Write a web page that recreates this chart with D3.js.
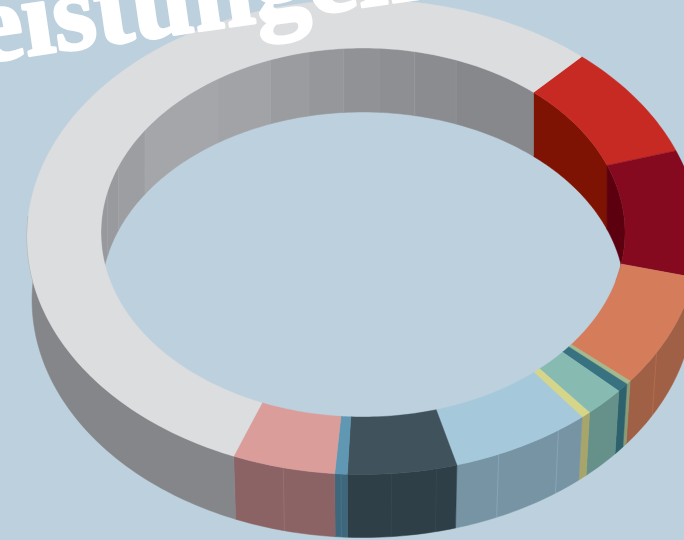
<!DOCTYPE html>
<html><head><meta charset="utf-8">
<script src="https://cdn.jsdelivr.net/npm/d3@7"></script>
<style>html,body{margin:0;padding:0;background:#bdd0dd;overflow:hidden}svg{display:block}</style>
</head><body><svg id="c" width="684" height="540"></svg>
<script>
// Shares of the ring in percent, clockwise from the red slice
const shares = [7.8, 8.65, 7.65, 0.25, 0.6, 2.0, 0.47, 6.8, 5.25, 0.6, 4.95, 55];
const topColors = ["#c72a23","#85091f","#d57c5b","#a3b88c","#38717f","#87bbb2","#d6d68a","#a5c9db","#40525c","#6098b3","#da9d9a","#dcddde"];
const outerWallColors = ["#7e1203","#5c000f","#a06045","#8a9b78","#2d626c","#66918b","#a8a56a","#7794a4","#2f3f48","#3f677c","#8b6365","#858689"];
const innerWallColors = ["#7e1203","#5c000f","#a06045","#8a9b78","#2d626c","#66918b","#a8a56a","#7794a4","#2f3f48","#3f677c","#8b6365","#9a9b9e"];
// faint seams on the outer wall: fraction of each slice's span
const outerSeams = [[],[],[0.7],[],[],[],[],[0.21,0.69],[0.19,0.6],[0.5],[0.5],[]];
// faint seams on the far inner wall (degrees clockwise from the top)
const innerSeamDeg = [-77,-69,-56.3,-33.6,-20.6,-11.9,-4.2,3.5,11.4,20.8];
const grayStops = [[105,"#98999c"],[200,"#a9aaae"],[350,"#929396"],[520,"#85868a"]];
const titleText = "Leistungen";

const W = 684, H = 540, bg = "#bdd0dd";
const cx = 363, outerC = 237, innerC = 232.5, outerRx = 336, outerRy = 237.5, innerRx = 262, innerRy = 184.5, depth = 63, innerDepth = 64, bottomK = 0.985;
const deg = Math.PI / 180, TAU = 2 * Math.PI;
const svg = d3.select("#c");
svg.append("rect").attr("width", W).attr("height", H).attr("fill", bg);

const startDeg = 40.6;
const pie = d3.pie().sort(null).startAngle(startDeg * deg).endAngle((startDeg + 360) * deg);
const arcs = pie(shares).map((d, i) => ({...d, i}));

const outerPt = (t, dy = 0, k = 1) => [cx + k * outerRx * Math.sin(t), outerC + dy - outerRy * Math.cos(t)];
const innerPt = (t, dy = 0) => [cx + innerRx * Math.sin(t), innerC + dy - innerRy * Math.cos(t)];
const line = d3.line();
const steps = (a, b, n) => d3.range(n + 1).map(j => a + (b - a) * j / n);
const gray = d3.scaleLinear().domain(grayStops.map(d => d[0])).range(grayStops.map(d => d[1])).interpolate(d3.interpolateRgb).clamp(true);
const n = (a, b) => Math.max(4, Math.ceil((b - a) / deg));

// inner wall (far half of the hole)
const gW = svg.append("g");
arcs.forEach(d => {
  [[d.startAngle, d.endAngle], [d.startAngle - TAU, d.endAngle - TAU]].forEach(([a, b]) => {
    const s = Math.max(a, -95 * deg), e = Math.min(b, 105 * deg);
    if (s >= e) return;
    const edges = d.i === 11
      ? [s, ...innerSeamDeg.map(v => v * deg).filter(v => v > s && v < e), e]
      : [s, e];
    d3.pairs(edges).forEach(([f0, f1]) => {
      const pts = steps(f0, f1, n(f0, f1));
      const poly = pts.map(t => innerPt(t)).concat(pts.slice().reverse().map(t => innerPt(t, innerDepth)));
      const col = d.i === 11 ? gray(cx + innerRx * Math.sin((f0 + f1) / 2)) : innerWallColors[d.i];
      gW.append("path").attr("d", line(poly) + "Z").attr("fill", col).attr("stroke", col).attr("stroke-width", 0.5);
    });
    edges.slice(1, -1).forEach(t => gW.append("path").attr("d", line([innerPt(t), innerPt(t, innerDepth)]))
      .attr("stroke", "#b4b5b8").attr("stroke-width", 0.8).attr("opacity", 0.3));
  });
});

// outer wall (near half)
const gO = svg.append("g");
arcs.forEach(d => {
  [[d.startAngle, d.endAngle], [d.startAngle + TAU, d.endAngle + TAU]].forEach(([a, b]) => {
    const s = Math.max(a, 85 * deg), e = Math.min(b, 275 * deg);
    if (s >= e) return;
    const pts = steps(s, e, n(s, e));
    const poly = pts.map(t => outerPt(t)).concat(pts.slice().reverse().map(t => outerPt(t, depth, bottomK)));
    const col = outerWallColors[d.i];
    gO.append("path").attr("d", line(poly) + "Z").attr("fill", col).attr("stroke", col).attr("stroke-width", 0.5);
    outerSeams[d.i].forEach(f => {
      const t = d.startAngle + (d.endAngle - d.startAngle) * f;
      gO.append("path").attr("d", line([outerPt(t), outerPt(t, depth, bottomK)]))
        .attr("stroke", d3.color(col).brighter(0.9)).attr("stroke-width", 0.8).attr("opacity", 0.4);
    });
  });
});

// top face
const gT = svg.append("g");
arcs.forEach(d => {
  const pts = steps(d.startAngle, d.endAngle, n(d.startAngle, d.endAngle));
  const poly = pts.map(t => outerPt(t)).concat(pts.slice().reverse().map(t => innerPt(t)));
  gT.append("path").attr("d", line(poly) + "Z").attr("fill", topColors[d.i]).attr("stroke", topColors[d.i]).attr("stroke-width", 0.4);
});

// title
svg.append("text").text(titleText)
  .attr("transform", "translate(-94,73.5) rotate(-8.3)")
  .attr("font-family", "'Liberation Serif', serif").attr("font-weight", 700).attr("font-size", 110)
  .attr("fill", "#fff").attr("stroke", "#fff").attr("stroke-width", 3).attr("stroke-linejoin", "round");
</script></body></html>
